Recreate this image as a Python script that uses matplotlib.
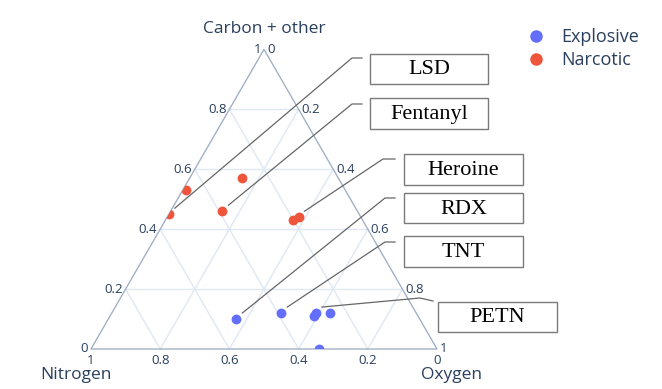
import numpy as np
import matplotlib
matplotlib.use("Agg")
import matplotlib.pyplot as plt
from matplotlib.patches import Polygon, Rectangle
from matplotlib.lines import Line2D

# ---------------- data ----------------
categories = ["Explosive", "Narcotic"]
# fractions: a = Carbon + other, b = Nitrogen, c = Oxygen
explosive_a = [0.10, 0.12, 0.12, 0.11, 0.12, 0.00]
explosive_b = [0.53, 0.39, 0.29, 0.30, 0.25, 0.34]
explosive_c = [0.37, 0.49, 0.59, 0.59, 0.63, 0.66]
narcotic_a = [0.53, 0.45, 0.57, 0.46, 0.44, 0.43]
narcotic_b = [0.46, 0.55, 0.28, 0.39, 0.18, 0.20]
narcotic_c = [0.01, 0.00, 0.15, 0.15, 0.38, 0.37]
axis_titles = ["Carbon + other", "Nitrogen", "Oxygen"]
tick_values = [0, 0.2, 0.4, 0.6, 0.8, 1]
tick_labels = ["0", "0.2", "0.4", "0.6", "0.8", "1"]
# labelled compounds: (name, series, index in series)
labels = ["LSD", "Fentanyl", "Heroine", "RDX", "TNT", "PETN"]
label_series = ["Narcotic", "Narcotic", "Narcotic", "Explosive", "Explosive", "Explosive"]
label_index = [1, 3, 4, 0, 1, 2]

# ---------------- layout (pixels) ----------------
W, H = 662, 389
X0, Y0, SIDE = 91, 349, 346  # bottom-left vertex and side length in px

# box geometry (left, top, right, bottom) in px and connector elbows
boxes = [(370, 54, 488, 84), (370, 98, 488, 129), (404, 154, 523, 185),
         (404, 193, 523, 223), (404, 236, 523, 267), (438, 302, 557, 332)]
elbows = [[(352, 58), (362, 58)], [(352, 104), (362, 104)], [(383, 159), (395, 159)],
          [(385, 198), (395, 198)], [(385, 242), (395, 242)], [(420, 298), (433, 301)]]

BLUE = "#636efa"
RED = "#EF553B"
TXT = "#2a3f5f"
GRID = "#DFE8F3"
EDGE = "#A2B1C6"


def tern(a, b, c):
    a = np.asarray(a, float); c = np.asarray(c, float)
    return c + a / 2.0, a * np.sqrt(3) / 2.0


def p2d(px, py):
    return (px - X0) / SIDE, (Y0 - py) / SIDE


def d2p(x, y):
    return X0 + x * SIDE, Y0 - y * SIDE


fig = plt.figure(figsize=(W / 100, H / 100), dpi=100)
ax = fig.add_axes([0, 0, 1, 1])
ax.set_xlim(-X0 / SIDE, (W - X0) / SIDE)
ax.set_ylim((Y0 - H) / SIDE, Y0 / SIDE)
ax.axis("off")

font = ["Open Sans", "DejaVu Sans"]

# grid lines
for v in [0.2, 0.4, 0.6, 0.8]:
    for (p, q) in [((v, 1 - v, 0), (v, 0, 1 - v)),
                   ((1 - v, v, 0), (0, v, 1 - v)),
                   ((1 - v, 0, v), (0, 1 - v, v))]:
        x1, y1 = tern(*p); x2, y2 = tern(*q)
        ax.plot([x1, x2], [y1, y2], color=GRID, lw=1.0, zorder=1)

# triangle edges
verts = np.array([tern(1, 0, 0), tern(0, 1, 0), tern(0, 0, 1)])
tri = Polygon(verts, closed=True, fill=False, edgecolor=EDGE, lw=1.0, zorder=2)
ax.add_patch(tri)
clip = Polygon(verts, closed=True, transform=ax.transData, fill=False, lw=0)
ax.add_patch(clip)
clip.set_visible(False)

# tick labels
tk = dict(fontsize=9.5, color=TXT, family=font)
for v, lab in zip(tick_values, tick_labels):
    # a axis (left side)
    x, y = tern(v, 1 - v, 0)
    px, py = d2p(x, y)
    dx, dy = p2d(px - 3, py)
    ax.text(dx, dy, lab, ha="right", va="center", **tk)
    # b axis (bottom)
    x, y = tern(0, v, 1 - v)
    px, py = d2p(x, y)
    dx, dy = p2d(px, py + 11)
    ax.text(dx, dy, lab, ha="center", va="center", **tk)
    # c axis (right side)
    x, y = tern(1 - v, 0, v)
    px, py = d2p(x, y)
    dx, dy = p2d(px + 3, py)
    ax.text(dx, dy, lab, ha="left", va="center", **tk)

# axis titles
tt = dict(fontsize=12.5, color=TXT, family=font, ha="center", va="center")
ax.text(*p2d(264, 29), axis_titles[0], **tt)
ax.text(*p2d(76, 375), axis_titles[1], **tt)
ax.text(*p2d(452, 375), axis_titles[2], **tt)

# points
ex, ey = tern(explosive_a, explosive_b, explosive_c)
nx, ny = tern(narcotic_a, narcotic_b, narcotic_c)
s1 = ax.scatter(ex, ey, s=50, color=BLUE, zorder=5, linewidths=0)
s2 = ax.scatter(nx, ny, s=50, color=RED, zorder=5, linewidths=0)
s1.set_clip_path(clip)
s2.set_clip_path(clip)

# annotations
series_xy = {"Explosive": (ex, ey), "Narcotic": (nx, ny)}
for name, ser, idx, box, elb in zip(labels, label_series, label_index, boxes, elbows):
    xs, ys = series_xy[ser]
    ppx, ppy = d2p(xs[idx], ys[idx])
    start = (ppx + 6, ppy - 6)
    pts = [start] + elb
    dpts = [p2d(*p) for p in pts]
    ax.plot([p[0] for p in dpts], [p[1] for p in dpts], color="#666666", lw=0.9, zorder=6)
    l, t, r, b = box
    bl = p2d(l, b)
    tr = p2d(r, t)
    ax.add_patch(Rectangle(bl, tr[0] - bl[0], tr[1] - bl[1], facecolor="white",
                           edgecolor="#7a7a7a", lw=1.0, zorder=7))
    ax.text(*p2d((l + r) / 2, (t + b) / 2 + 1), name, ha="center", va="center",
            fontsize=16, family="Liberation Serif", color="black", zorder=8)

# legend
handles = [Line2D([], [], marker="o", ls="", color=BLUE, markersize=8),
           Line2D([], [], marker="o", ls="", color=RED, markersize=8)]
leg = fig.legend(handles, categories, loc="upper left", bbox_to_anchor=(518 / W, 1 - 19 / H),
                 frameon=False, handletextpad=0.9, borderpad=0,
                 labelspacing=0.3, handlelength=1.0, prop={"family": font, "size": 13})
for t in leg.get_texts():
    t.set_color(TXT)

fig.savefig("out.png", dpi=100)
